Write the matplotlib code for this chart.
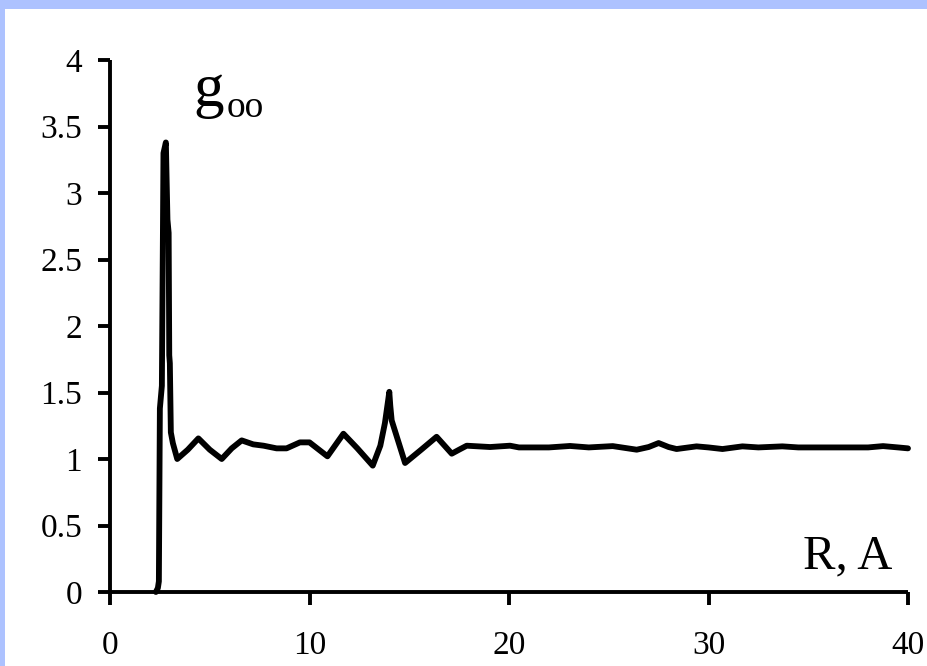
import matplotlib
matplotlib.use("Agg")
import matplotlib.pyplot as plt
from matplotlib.patches import Rectangle

# g_OO(R)
r_values = [2.30, 2.40, 2.45, 2.50, 2.60, 2.68, 2.80, 2.88, 2.94, 2.97, 3.00, 3.05, 3.15,
            3.37, 3.90, 4.43, 5.00, 5.60, 6.10, 6.60, 7.18, 7.70, 8.35, 8.85, 9.52,
            10.00, 10.90, 11.70, 12.40, 13.17, 13.55, 13.78, 13.95, 14.00, 14.05, 14.12,
            14.79, 15.60, 16.37, 17.13, 17.50, 17.88, 19.05, 20.05, 20.50, 22.00, 23.06,
            24.00, 25.20, 26.40, 27.00, 27.50, 28.00, 28.40, 29.40, 30.00, 30.70, 31.70,
            32.50, 33.70, 34.50, 36.00, 38.00, 38.75, 39.50, 40.00]
g_values = [0.00, 0.03, 0.08, 1.38, 1.55, 3.30, 3.38, 2.80, 2.70, 1.78, 1.72, 1.20, 1.12,
            1.00, 1.07, 1.155, 1.07, 1.00, 1.08, 1.14, 1.11, 1.10, 1.08, 1.08, 1.125,
            1.125, 1.02, 1.19, 1.08, 0.95, 1.10, 1.27, 1.45, 1.505, 1.40, 1.29,
            0.97, 1.07, 1.167, 1.04, 1.07, 1.10, 1.09, 1.10, 1.087, 1.087, 1.098,
            1.087, 1.097, 1.07, 1.09, 1.12, 1.09, 1.075, 1.095, 1.087, 1.075, 1.095,
            1.087, 1.095, 1.087, 1.087, 1.087, 1.097, 1.087, 1.08]

x_ticks = [0, 10, 20, 30, 40]
y_ticks = [0, 0.5, 1, 1.5, 2, 2.5, 3, 3.5, 4]
y_labels = ["0", "0.5", "1", "1.5", "2", "2.5", "3", "3.5", "4"]

plt.rcParams["font.family"] = ["Liberation Serif", "DejaVu Serif"]

fig = plt.figure(figsize=(9.28, 6.66), dpi=100)
fig.patch.set_facecolor("white")

# slide border (light blue strips on top and left)
band = "#adc2ff"
fig.add_artist(Rectangle((0, 1 - 9 / 666), 1, 9 / 666, transform=fig.transFigure,
                         facecolor=band, edgecolor="none", zorder=0))
fig.add_artist(Rectangle((0, 0), 5 / 928, 1, transform=fig.transFigure,
                         facecolor=band, edgecolor="none", zorder=0))

ax = fig.add_axes([110 / 928, 74 / 666, 798 / 928, 532 / 666])
ax.set_facecolor("none")

ax.plot(r_values, g_values, color="black", lw=4.2, solid_joinstyle="round",
        solid_capstyle="round", clip_on=False, zorder=3)

ax.set_xlim(0, 40)
ax.set_ylim(0, 4)
ax.set_xticks(x_ticks)
ax.set_yticks(y_ticks)
ax.set_yticklabels(y_labels)

for s in ["top", "right"]:
    ax.spines[s].set_visible(False)
for s in ["left", "bottom"]:
    ax.spines[s].set_linewidth(2.8)
    ax.spines[s].set_capstyle("butt")

ax.tick_params(axis="both", direction="out", length=9, width=2.8, labelsize=24,
               colors="black")
ax.tick_params(axis="x", pad=19)
ax.tick_params(axis="y", pad=11)

# labels inside the plot
ax.text(193 / 928, 1 - 106 / 666, "g", transform=fig.transFigure, fontsize=44,
        ha="left", va="baseline")
ax.text(227 / 928, 1 - 117 / 666, "oo", transform=fig.transFigure, fontsize=27,
        ha="left", va="baseline")
ax.text(892 / 928, 1 - 568 / 666, "R, A", transform=fig.transFigure, fontsize=35,
        ha="right", va="baseline")

fig.savefig("out.png", dpi=100, facecolor=fig.get_facecolor())
